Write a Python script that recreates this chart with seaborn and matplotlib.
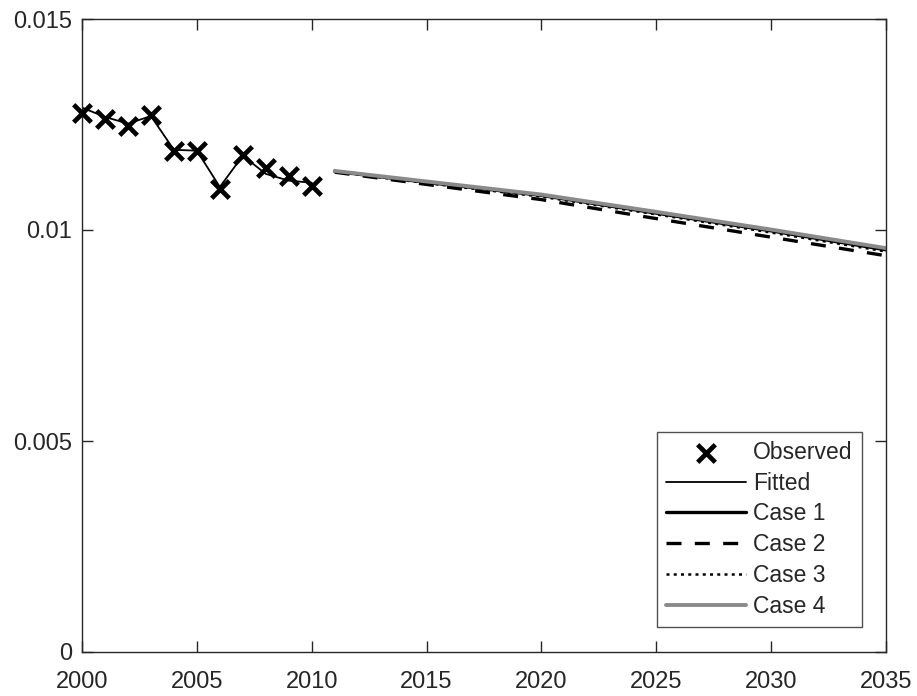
import matplotlib
matplotlib.use('Agg')
import matplotlib.pyplot as plt
import seaborn as sns
import pandas as pd
from matplotlib.ticker import FixedLocator, FixedFormatter

anos_obs = [2000, 2001, 2002, 2003, 2004, 2005, 2006, 2007, 2008, 2009, 2010]
observado = [0.01278, 0.01263, 0.01247, 0.01273, 0.01188, 0.01188,
             0.01098, 0.01178, 0.01147, 0.01128, 0.01104]
ajustado = [0.01290, 0.01268, 0.01252, 0.01270, 0.01190, 0.01188,
            0.01102, 0.01176, 0.01133, 0.01117, 0.01112]

anos_proj = [2011, 2015, 2020, 2025, 2030, 2035]
caso1 = [0.01139, 0.01113, 0.01082, 0.01040, 0.00998, 0.00953]
caso2 = [0.01137, 0.01108, 0.01072, 0.01027, 0.00983, 0.00939]
caso3 = [0.01138, 0.01111, 0.01079, 0.01037, 0.00994, 0.00949]
caso4 = [0.01140, 0.01115, 0.01084, 0.01043, 0.01001, 0.00957]

COR_TEXTO = '#262626'

sns.set_style('ticks')
plt.rcParams['font.family'] = ['Liberation Sans', 'DejaVu Sans']
plt.rcParams['font.size'] = 17

fig = plt.figure(figsize=(9.17, 6.96), dpi=100)
ax = fig.add_axes([82 / 917, 44 / 696, 804 / 917, 633 / 696])

df_obs = pd.DataFrame({'ano': anos_obs, 'obs': observado, 'fit': ajustado})
df_proj = pd.DataFrame({'ano': anos_proj, 'c1': caso1, 'c2': caso2,
                        'c3': caso3, 'c4': caso4})

sns.scatterplot(data=df_obs, x='ano', y='obs', ax=ax, color='black',
                marker='x', s=160, linewidth=3.4, label='Observed', zorder=3,
                clip_on=False)
sns.lineplot(data=df_obs, x='ano', y='fit', ax=ax, color='black', linewidth=1.3,
             label='Fitted')
sns.lineplot(data=df_proj, x='ano', y='c1', ax=ax, color='black', linewidth=2.4,
             label='Case 1')
sns.lineplot(data=df_proj, x='ano', y='c2', ax=ax, color='black', linewidth=2.4,
             dashes=(4.5, 4), label='Case 2')
sns.lineplot(data=df_proj, x='ano', y='c3', ax=ax, color='black', linewidth=1.8,
             dashes=(1.2, 1.7), label='Case 3')
sns.lineplot(data=df_proj, x='ano', y='c4', ax=ax, color='#8a8a8a', linewidth=2.8,
             label='Case 4')

ax.set_xlim(2000, 2035)
ax.set_ylim(0, 0.015)
ax.xaxis.set_major_locator(FixedLocator(list(range(2000, 2036, 5))))
ax.yaxis.set_major_locator(FixedLocator([0, 0.005, 0.01, 0.015]))
ax.yaxis.set_major_formatter(FixedFormatter(['0', '0.005', '0.01', '0.015']))
ax.set_xlabel('')
ax.set_ylabel('')

ax.tick_params(direction='in', length=8, width=1, top=True, right=True,
               colors=COR_TEXTO, labelsize=17)
ax.tick_params(axis='x', pad=14)
ax.tick_params(axis='y', pad=7)
for lado in ax.spines.values():
    lado.set_visible(True)
    lado.set_color(COR_TEXTO)
    lado.set_linewidth(1)

handles, labels = ax.get_legend_handles_labels()
leg = ax.legend(handles, labels, loc='lower right',
                bbox_to_anchor=(0.970, 0.0395), borderaxespad=0,
                frameon=True, fancybox=False, edgecolor=COR_TEXTO,
                handlelength=3.5, handletextpad=0.3, labelspacing=0.34,
                borderpad=0.4, fontsize=16.5, scatterpoints=1)
leg.get_frame().set_linewidth(1)
for t in leg.get_texts():
    t.set_color(COR_TEXTO)

plt.savefig('out.png', dpi=100, facecolor='white')
plt.close()
